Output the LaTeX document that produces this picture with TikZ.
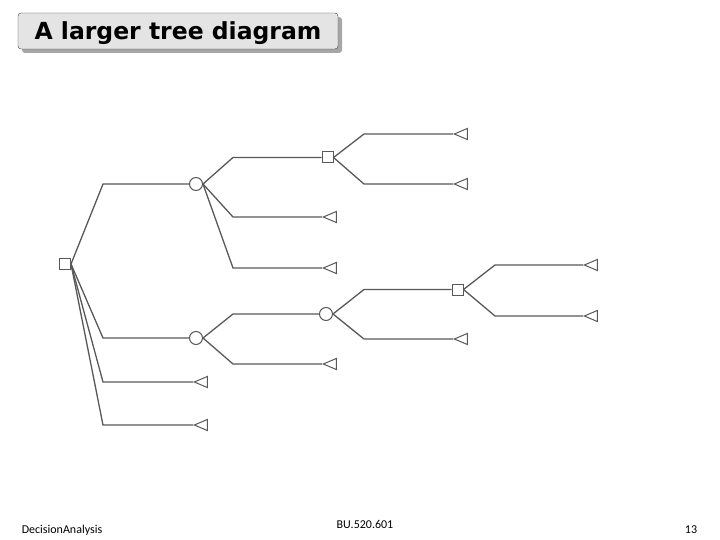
\documentclass[tikz,border=0pt]{standalone}
\usepackage{fontspec}
\setmainfont{Carlito}
\newfontfamily\headfont{DejaVu Sans}
\usepackage{tikz}
\usetikzlibrary{shapes.geometric, shadows}
\definecolor{linegray}{HTML}{585858}
\definecolor{marble}{HTML}{E4E4E4}
\definecolor{shadowgray}{HTML}{A6A6A6}
\tikzstyle{branch}   = [draw=linegray, line width=1.3pt]
\tikzstyle{decision} = [rectangle, draw=linegray, fill=white, line width=1pt, minimum size=11pt, inner sep=0pt]
\tikzstyle{chance}   = [circle, draw=linegray, fill=white, line width=1pt, minimum size=13pt, inner sep=0pt]
\tikzstyle{payoff}   = [isosceles triangle, shape border rotate=180, isosceles triangle stretches, draw=linegray, line width=1pt, minimum width=11pt, minimum height=13pt, inner sep=0pt, anchor=apex]
\tikzstyle{titlebox} = [rectangle, rounded corners=3pt, draw=black!75, fill=marble, minimum width=320pt, minimum height=36pt, text height=18pt, text depth=0pt, font=\headfont\bfseries\fontsize{23.5}{28}\selectfont, drop shadow={shadow xshift=4pt, shadow yshift=-4pt, fill=shadowgray, opacity=1}]
\tikzstyle{footer}   = [font=\fontsize{12}{14}\selectfont, anchor=base, inner sep=0pt]

\begin{document}
\begin{tikzpicture}[x=1pt, y=-1pt]
  \useasboundingbox (0,0) rectangle (720,540);

  % Title
  \node[titlebox] (title) at (178,31) {A larger tree diagram};

  % Bend columns
  \coordinate (k1) at (103,0);
  \coordinate (k2) at (233,0);
  \coordinate (k3) at (364,0);
  \coordinate (k4) at (495,0);

  % Decision and chance nodes
  \node[decision] (root) at (65,264) {};
  \node[chance]   (c1)   at (196,184) {};
  \node[decision] (d1)   at (327.5,157.5) {};
  \node[chance]   (c2)   at (196,338) {};
  \node[chance]   (c3)   at (326,314) {};
  \node[decision] (d2)   at (457.5,289.5) {};

  % End points (apex at the left)
  \node[payoff] (p1)  at (322,217) {};
  \node[payoff] (p2)  at (322,268) {};
  \node[payoff] (p3)  at (453,134) {};
  \node[payoff] (p4)  at (453,184) {};
  \node[payoff] (p5)  at (322,364) {};
  \node[payoff] (p6)  at (453,339) {};
  \node[payoff] (p7)  at (583,265) {};
  \node[payoff] (p8)  at (583,316) {};
  \node[payoff] (p9)  at (193,382) {};
  \node[payoff] (p10) at (193,425) {};

  % Branches: from node, out to the bend column, then across
  \foreach \a/\b/\k in {root/c1/k1, root/c2/k1, root/p9/k1, root/p10/k1,
                        c1/d1/k2, c1/p1/k2, c1/p2/k2,
                        d1/p3/k3, d1/p4/k3,
                        c2/c3/k2, c2/p5/k2,
                        c3/d2/k3, c3/p6/k3,
                        d2/p7/k4, d2/p8/k4}
      \draw[branch] (\a.east) -- (\b -| \k) -- (\b);

  % Footer
  \node[footer] (course) at (62,533)  {DecisionAnalysis};
  \node[footer] (code)   at (365,528) {BU.520.601};
  \node[footer] (page)   at (691,533) {13};
\end{tikzpicture}
\end{document}
